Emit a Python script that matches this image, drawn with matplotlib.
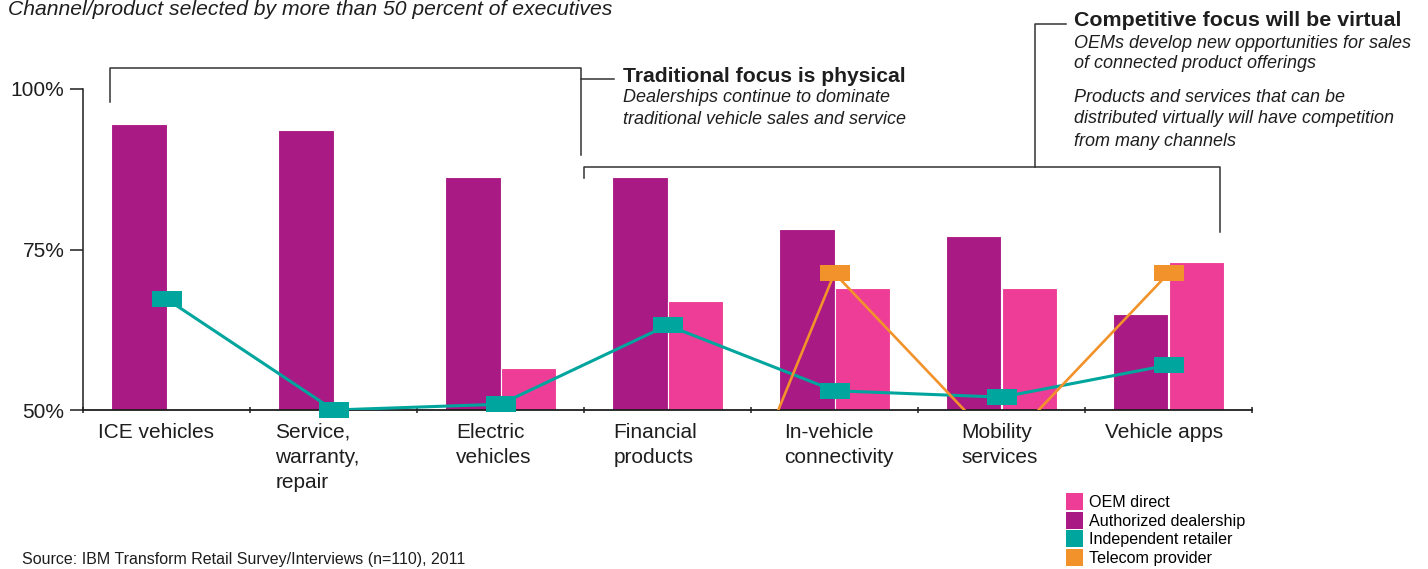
import numpy as np
import matplotlib
matplotlib.use("Agg")
import matplotlib.pyplot as plt
from matplotlib.patches import Patch
from matplotlib.transforms import ScaledTranslation

plt.rcParams['font.family'] = ['Liberation Sans', 'DejaVu Sans']

categories = ["ICE vehicles", "Service,\nwarranty,\nrepair", "Electric\nvehicles",
              "Financial\nproducts", "In-vehicle\nconnectivity", "Mobility\nservices",
              "Vehicle apps"]
oem_direct = [np.nan, np.nan, 56.5, 67.0, 69.0, 69.0, 73.1]
authorized_dealership = [94.5, 93.6, 86.3, 86.3, 78.2, 77.1, 65.0]
independent_retailer = [67.3, 50.0, 50.9, 63.2, 53.0, 52.0, 57.0]
telecom_provider = [np.nan, np.nan, np.nan, 8.0, 71.3, 43.9, 71.3]
yticks = [50, 75, 100]
ytick_labels = ["50%", "75%", "100%"]
series_names = ["OEM direct", "Authorized dealership", "Independent retailer", "Telecom provider"]

PURPLE = "#AA1A84"
PINK = "#EE3D96"
TEAL = "#00A59D"
ORANGE = "#F2922A"
TXT = "#1e1e1e"

W, H = 1428, 569
fig = plt.figure(figsize=(W / 100, H / 100), dpi=100)
ax = fig.add_axes([83 / W, 1 - 410 / H, 1169 / W, 321 / H])

x = np.arange(len(categories))
bw = 0.335
off = 0.1675

ad = np.array(authorized_dealership, dtype=float)
od = np.array(oem_direct, dtype=float)
m = ~np.isnan(ad)
ax.bar(x[m] - off, ad[m], width=bw, color=PURPLE, edgecolor="white", linewidth=0.8, zorder=2)
m = ~np.isnan(od)
ax.bar(x[m] + off, od[m], width=bw, color=PINK, edgecolor="white", linewidth=0.8, zorder=2)

# rectangular marker
rect = [(-1, -0.58), (1, -0.58), (1, 0.58), (-1, 0.58), (-1, -0.58)]

ir = np.array(independent_retailer, dtype=float)
ax.plot(x, ir, color=TEAL, lw=2.2, zorder=3)
ax.plot(x, ir, ls="none", marker=rect, ms=21, color=TEAL, mew=0,
        zorder=5, clip_on=False)

tp = np.array(telecom_provider, dtype=float)
ax.plot(x, tp, color=ORANGE, lw=1.9, zorder=3)
vis = tp >= 50
ax.plot(x[vis], tp[vis], ls="none", marker=rect, ms=21, color=ORANGE, mew=0,
        zorder=5, clip_on=False)

ax.set_xlim(-0.5, len(categories) - 0.5)
ax.set_ylim(50, 100)

for s in ["top", "right"]:
    ax.spines[s].set_visible(False)
ax.spines["left"].set_color(TXT)
ax.spines["bottom"].set_color(TXT)
ax.spines["left"].set_linewidth(1.1)
ax.spines["bottom"].set_linewidth(1.3)

ax.set_yticks(yticks)
ax.set_yticklabels(ytick_labels, fontsize=15, color=TXT)
ax.tick_params(axis="y", length=9.5, width=1.1, color=TXT, pad=4)

ax.set_xticks(x)
ax.set_xticklabels(categories, fontsize=15, color=TXT, multialignment="left",
                   va="top", linespacing=1.42)
ax.tick_params(axis="x", which="major", length=0, pad=9)
ax.set_xticks(np.arange(-0.5, len(categories), 1.0), minor=True)
ax.tick_params(axis="x", which="minor", length=5, width=1.1, direction="inout", color=TXT)

# small horizontal nudges of category labels (pixels)
label_shift = [-11, -16, -7, -12, 4, -2, -4]
for lab, dx in zip(ax.get_xticklabels(), label_shift):
    lab.set_transform(lab.get_transform() + ScaledTranslation(dx / 100, 0, fig.dpi_scale_trans))

# brackets (data coordinates, drawn outside axes)
bk = dict(color="#333333", lw=1.1, clip_on=False, zorder=1)
ax.plot([-0.338, -0.338, 2.482, 2.482], [97.9, 103.3, 103.3, 89.7], **bk)
ax.plot([2.482, 2.68], [101.5, 101.5], **bk)
ax.plot([2.5, 2.5, 6.31, 6.31], [86.2, 87.9, 87.9, 77.7], **bk)
ax.plot([5.201, 5.201, 5.385], [87.9, 110.1, 110.1], **bk)

def ft(px, py, s, va="center", **kw):
    fig.text(px / W, 1 - py / H, s, color=TXT, va=va, ha="left", **kw)

ft(8, 15, "Channel/product selected by more than 50 percent of executives",
   va="baseline", fontsize=15.2, style="italic")
ft(623, 76, "Traditional focus is physical", fontsize=15.2, weight="bold")
ft(623, 98, "Dealerships continue to dominate", fontsize=13, style="italic")
ft(623, 120, "traditional vehicle sales and service", fontsize=13, style="italic")
ft(1074, 20, "Competitive focus will be virtual", fontsize=15.4, weight="bold")
ft(1074, 43, "OEMs develop new opportunities for sales", fontsize=13, style="italic")
ft(1074, 64, "of connected product offerings", fontsize=13, style="italic")
ft(1074, 98, "Products and services that can be", fontsize=13, style="italic")
ft(1074, 119, "distributed virtually will have competition", fontsize=13, style="italic")
ft(1074, 141, "from many channels", fontsize=13, style="italic")

fig.text(22 / W, 1 - 567 / H, "Source: IBM Transform Retail Survey/Interviews (n=110), 2011",
         fontsize=11.5, color=TXT, va="bottom", ha="left")

handles = [Patch(facecolor=c, edgecolor="none") for c in [PINK, PURPLE, TEAL, ORANGE]]
fig.legend(handles, series_names, loc="upper left",
           bbox_to_anchor=(1066 / W, 1 - 493 / H), frameon=False, fontsize=11.6,
           handlelength=1.05, handleheight=1.25, handletextpad=0.4,
           labelspacing=0.1, borderpad=0, borderaxespad=0)

fig.savefig("out.png", dpi=100)
